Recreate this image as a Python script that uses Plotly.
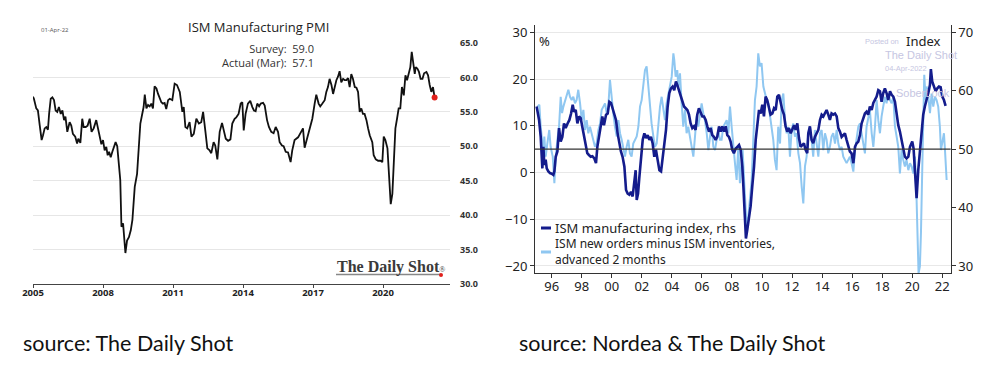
import plotly.graph_objects as go

# ---------------- Left chart: ISM Manufacturing PMI (The Daily Shot) ----------------
pmi_dates = [2005.00, 2005.04, 2005.14, 2005.21, 2005.29, 2005.37, 2005.43, 2005.50, 2005.57, 2005.64,
             2005.69, 2005.76, 2005.83, 2005.90, 2005.97, 2006.04, 2006.11, 2006.19, 2006.26, 2006.33,
             2006.39, 2006.47, 2006.57, 2006.64, 2006.71, 2006.81, 2006.89, 2006.94, 2007.03, 2007.11,
             2007.17, 2007.26, 2007.34, 2007.43, 2007.51, 2007.60, 2007.71, 2007.83, 2007.93, 2008.00,
             2008.07, 2008.14, 2008.20, 2008.26, 2008.33, 2008.40, 2008.47, 2008.54, 2008.61, 2008.69,
             2008.74, 2008.79, 2008.86, 2008.96, 2009.03, 2009.11, 2009.19, 2009.26, 2009.36, 2009.46,
             2009.54, 2009.60, 2009.67, 2009.74, 2009.79, 2009.86, 2009.93, 2010.00, 2010.07, 2010.14,
             2010.21, 2010.29, 2010.36, 2010.43, 2010.50, 2010.57, 2010.64, 2010.71, 2010.79, 2010.86,
             2010.97, 2011.07, 2011.17, 2011.29, 2011.40, 2011.46, 2011.53, 2011.61, 2011.71, 2011.79,
             2011.89, 2012.00, 2012.11, 2012.21, 2012.29, 2012.39, 2012.47, 2012.57, 2012.64, 2012.74,
             2012.81, 2012.90, 2013.00, 2013.10, 2013.19, 2013.26, 2013.36, 2013.46, 2013.54, 2013.64,
             2013.71, 2013.81, 2013.90, 2013.97, 2014.03, 2014.11, 2014.21, 2014.31, 2014.40, 2014.47,
             2014.54, 2014.61, 2014.69, 2014.76, 2014.86, 2014.93, 2015.03, 2015.11, 2015.21, 2015.31,
             2015.40, 2015.50, 2015.57, 2015.67, 2015.74, 2015.83, 2015.93, 2016.04, 2016.11, 2016.21,
             2016.36, 2016.47, 2016.57, 2016.64, 2016.74, 2016.86, 2016.97, 2017.07, 2017.14, 2017.24,
             2017.31, 2017.40, 2017.50, 2017.57, 2017.64, 2017.71, 2017.79, 2017.86, 2017.93, 2018.00,
             2018.07, 2018.14, 2018.21, 2018.29, 2018.36, 2018.43, 2018.50, 2018.57, 2018.64, 2018.71,
             2018.79, 2018.86, 2018.93, 2019.00, 2019.07, 2019.14, 2019.21, 2019.29, 2019.36, 2019.43,
             2019.54, 2019.60, 2019.69, 2019.79, 2019.89, 2019.97, 2020.03, 2020.10, 2020.19, 2020.24,
             2020.29, 2020.33, 2020.40, 2020.47, 2020.53, 2020.60, 2020.67, 2020.74, 2020.81, 2020.89,
             2020.96, 2021.03, 2021.10, 2021.17, 2021.23, 2021.29, 2021.36, 2021.40, 2021.47, 2021.54,
             2021.61, 2021.69, 2021.76, 2021.86, 2021.93, 2022.00, 2022.07, 2022.14, 2022.21]
pmi_values = [57.2, 56.9, 55.5, 55.2, 53.0, 50.9, 51.6, 52.6, 52.8, 52.4,
              54.7, 56.9, 57.1, 56.7, 55.2, 55.0, 55.7, 54.7, 55.2, 53.8,
              54.3, 52.1, 53.5, 53.0, 51.8, 51.4, 50.4, 51.1, 50.5, 54.0,
              52.8, 52.8, 53.0, 54.0, 52.1, 52.6, 53.8, 51.8, 50.3, 50.9,
              49.4, 49.9, 48.7, 49.2, 48.4, 49.2, 49.9, 50.6, 50.0, 47.2,
              45.1, 38.3, 38.8, 34.5, 36.3, 36.8, 37.8, 39.3, 44.1, 46.0,
              49.4, 53.3, 54.5, 55.7, 57.5, 55.5, 56.0, 55.8, 56.2, 55.5,
              58.7, 58.4, 57.6, 56.9, 56.4, 56.2, 56.3, 55.4, 56.7, 56.9,
              56.7, 59.1, 58.9, 57.9, 55.0, 55.7, 52.8, 52.6, 53.5, 51.4,
              51.8, 54.0, 53.3, 53.5, 55.0, 52.1, 49.7, 49.4, 49.0, 50.6,
              50.1, 48.1, 52.1, 53.4, 52.3, 51.1, 50.8, 51.0, 53.3, 54.0,
              54.2, 54.7, 56.2, 56.4, 52.3, 54.7, 56.2, 56.6, 55.7, 55.2,
              55.1, 56.2, 55.8, 56.2, 56.3, 55.9, 53.8, 52.8, 52.1, 51.9,
              52.8, 52.1, 50.6, 50.1, 50.0, 49.2, 49.1, 47.7, 49.4, 50.9,
              51.3, 52.1, 52.6, 49.8, 51.0, 52.6, 54.0, 56.2, 57.5, 56.2,
              55.8, 56.2, 56.7, 57.9, 58.6, 59.8, 58.9, 57.6, 58.7, 59.6,
              60.1, 60.9, 59.3, 59.8, 59.6, 59.6, 59.9, 58.6, 60.5, 59.8,
              58.6, 58.5, 57.9, 55.0, 55.5, 54.7, 54.7, 53.8, 52.6, 51.6,
              50.6, 48.7, 48.1, 47.9, 47.9, 47.7, 51.4, 50.9, 49.7, 46.5,
              42.6, 41.6, 43.1, 48.4, 52.6, 54.0, 55.5, 55.5, 58.6, 57.4,
              60.3, 59.6, 60.6, 61.5, 63.7, 61.8, 60.5, 61.5, 61.3, 60.8,
              59.8, 59.8, 60.6, 60.8, 60.3, 58.9, 57.9, 58.6, 57.1]
pmi_xticks = [2005, 2008, 2011, 2014, 2017, 2020]
pmi_xlabels = ["2005", "2008", "2011", "2014", "2017", "2020"]
pmi_yticks = [30, 35, 40, 45, 50, 55, 60, 65]
pmi_ylabels = ["30.0", "35.0", "40.0", "45.0", "50.0", "55.0", "60.0", "65.0"]

# ---------------- Right chart: Nordea ----------------
ism_dates = [1995.00, 1995.16, 1995.27, 1995.38, 1995.45, 1995.51, 1995.60, 1995.67, 1995.78, 1995.89,
             1996.00, 1996.11, 1996.18, 1996.27, 1996.38, 1996.49, 1996.60, 1996.71, 1996.82, 1996.93,
             1997.06, 1997.18, 1997.29, 1997.40, 1997.49, 1997.60, 1997.71, 1997.82, 1997.93, 1998.04,
             1998.15, 1998.26, 1998.37, 1998.48, 1998.60, 1998.71, 1998.84, 1998.95, 1999.04, 1999.15,
             1999.28, 1999.37, 1999.48, 1999.62, 1999.73, 1999.84, 1999.95, 2000.06, 2000.17, 2000.28,
             2000.39, 2000.50, 2000.61, 2000.72, 2000.84, 2000.95, 2001.06, 2001.17, 2001.28, 2001.39,
             2001.48, 2001.59, 2001.66, 2001.75, 2001.83, 2001.95, 2002.06, 2002.17, 2002.28, 2002.39,
             2002.50, 2002.61, 2002.72, 2002.83, 2002.94, 2003.05, 2003.17, 2003.28, 2003.39, 2003.50,
             2003.61, 2003.72, 2003.83, 2003.94, 2004.05, 2004.16, 2004.27, 2004.36, 2004.47, 2004.58,
             2004.70, 2004.81, 2004.92, 2005.03, 2005.14, 2005.25, 2005.36, 2005.47, 2005.58, 2005.69,
             2005.80, 2005.92, 2006.03, 2006.14, 2006.25, 2006.36, 2006.47, 2006.58, 2006.69, 2006.80,
             2006.91, 2007.02, 2007.14, 2007.25, 2007.36, 2007.47, 2007.58, 2007.69, 2007.80, 2007.91,
             2008.02, 2008.13, 2008.25, 2008.36, 2008.47, 2008.58, 2008.69, 2008.76, 2008.87, 2008.93,
             2009.02, 2009.13, 2009.24, 2009.35, 2009.47, 2009.58, 2009.69, 2009.80, 2009.91, 2010.02,
             2010.13, 2010.24, 2010.35, 2010.46, 2010.57, 2010.69, 2010.80, 2010.91, 2011.02, 2011.13,
             2011.24, 2011.35, 2011.46, 2011.57, 2011.68, 2011.79, 2011.91, 2012.02, 2012.13, 2012.24,
             2012.35, 2012.46, 2012.57, 2012.68, 2012.79, 2012.90, 2013.01, 2013.08, 2013.19, 2013.30,
             2013.41, 2013.52, 2013.64, 2013.75, 2013.86, 2013.97, 2014.08, 2014.19, 2014.30, 2014.41,
             2014.52, 2014.63, 2014.74, 2014.86, 2014.97, 2015.08, 2015.19, 2015.30, 2015.41, 2015.52,
             2015.63, 2015.74, 2015.85, 2015.96, 2016.08, 2016.19, 2016.30, 2016.41, 2016.52, 2016.63,
             2016.74, 2016.85, 2016.96, 2017.07, 2017.18, 2017.30, 2017.41, 2017.52, 2017.63, 2017.74,
             2017.85, 2017.96, 2018.07, 2018.18, 2018.29, 2018.40, 2018.52, 2018.63, 2018.74, 2018.85,
             2018.96, 2019.07, 2019.18, 2019.29, 2019.40, 2019.51, 2019.62, 2019.74, 2019.85, 2020.00,
             2020.09, 2020.20, 2020.29, 2020.40, 2020.51, 2020.62, 2020.73, 2020.84, 2020.96, 2021.07,
             2021.18, 2021.24, 2021.33, 2021.44, 2021.56, 2021.67, 2021.78, 2021.89, 2022.00, 2022.11,
             2022.22]
ism_values = [57.3, 55.0, 52.1, 46.7, 50.4, 47.3, 48.2, 46.7, 46.2, 45.9,
              45.8, 45.6, 46.2, 48.7, 49.6, 53.6, 51.3, 52.1, 54.4, 53.6,
              54.4, 55.0, 56.1, 57.6, 56.4, 56.7, 54.4, 55.6, 55.3, 53.9,
              52.4, 51.0, 49.3, 49.0, 48.7, 48.8, 48.4, 47.6, 50.4, 52.1,
              53.9, 55.6, 54.1, 55.9, 56.1, 58.1, 57.9, 57.0, 55.9, 55.0,
              52.7, 50.7, 49.6, 48.7, 47.0, 43.0, 42.4, 42.2, 42.7, 41.9,
              43.9, 46.4, 41.3, 42.4, 45.0, 48.2, 51.6, 52.7, 51.9, 52.4,
              51.6, 52.1, 51.0, 48.7, 49.9, 48.2, 46.4, 46.2, 48.7, 51.6,
              53.3, 57.3, 59.6, 60.4, 60.7, 60.1, 61.6, 61.0, 60.1, 59.3,
              58.4, 57.3, 57.0, 56.7, 55.9, 54.4, 53.6, 53.9, 53.3, 55.9,
              57.0, 56.4, 55.6, 55.6, 55.0, 53.9, 53.0, 53.6, 52.4, 52.1,
              51.6, 52.1, 53.9, 53.0, 53.9, 53.0, 53.9, 52.4, 52.1, 51.3,
              49.9, 49.3, 50.1, 50.4, 50.7, 49.9, 47.0, 43.6, 39.0, 34.7,
              36.2, 38.4, 40.2, 43.6, 47.0, 51.6, 54.4, 56.7, 56.1, 57.6,
              55.6, 59.0, 58.4, 57.3, 55.9, 56.1, 57.0, 56.7, 59.0, 59.3,
              57.9, 56.7, 55.9, 53.9, 53.0, 53.6, 52.7, 53.6, 54.1, 53.3,
              54.4, 51.9, 50.4, 50.7, 51.0, 49.9, 49.3, 52.7, 53.9, 51.6,
              51.0, 52.1, 52.7, 53.3, 55.0, 55.9, 55.6, 56.1, 56.7, 55.9,
              55.0, 56.1, 55.9, 56.1, 55.6, 53.6, 53.0, 52.1, 52.4, 52.7,
              51.6, 50.4, 49.6, 49.3, 47.6, 50.4, 51.0, 51.3, 52.4, 54.4,
              55.3, 56.1, 56.4, 55.9, 57.3, 56.7, 57.9, 58.4, 59.0, 60.1,
              59.9, 58.1, 59.6, 60.4, 59.6, 58.4, 59.9, 59.3, 59.0, 58.1,
              55.6, 54.1, 53.0, 51.6, 49.9, 48.7, 48.4, 48.7, 50.4, 51.3,
              50.1, 44.4, 41.6, 46.4, 50.1, 53.0, 55.9, 57.3, 58.4, 59.6,
              61.0, 63.7, 61.6, 60.7, 59.9, 60.4, 60.7, 60.6, 59.0, 58.4,
              57.4]

nmi_dates = [1995.05, 1995.18, 1995.27, 1995.38, 1995.45, 1995.51, 1995.60, 1995.71, 1995.84, 1995.93,
             1996.07, 1996.18, 1996.27, 1996.38, 1996.49, 1996.60, 1996.69, 1996.78, 1996.89, 1997.00,
             1997.11, 1997.22, 1997.33, 1997.44, 1997.55, 1997.66, 1997.77, 1997.89, 1998.00, 1998.11,
             1998.22, 1998.33, 1998.44, 1998.55, 1998.66, 1998.77, 1998.88, 1998.99, 1999.11, 1999.22,
             1999.33, 1999.44, 1999.55, 1999.66, 1999.77, 1999.88, 1999.99, 2000.10, 2000.21, 2000.33,
             2000.44, 2000.55, 2000.66, 2000.77, 2000.88, 2000.99, 2001.10, 2001.21, 2001.32, 2001.43,
             2001.55, 2001.66, 2001.77, 2001.88, 2001.99, 2002.10, 2002.21, 2002.32, 2002.39, 2002.48,
             2002.54, 2002.65, 2002.77, 2002.88, 2002.99, 2003.10, 2003.21, 2003.32, 2003.43, 2003.54,
             2003.65, 2003.76, 2003.87, 2003.99, 2004.10, 2004.16, 2004.25, 2004.36, 2004.43, 2004.54,
             2004.65, 2004.76, 2004.87, 2004.98, 2005.09, 2005.21, 2005.32, 2005.43, 2005.54, 2005.65,
             2005.76, 2005.87, 2005.98, 2006.09, 2006.20, 2006.32, 2006.43, 2006.54, 2006.65, 2006.76,
             2006.87, 2006.98, 2007.09, 2007.20, 2007.31, 2007.42, 2007.54, 2007.65, 2007.76, 2007.87,
             2007.98, 2008.09, 2008.20, 2008.31, 2008.42, 2008.53, 2008.64, 2008.71, 2008.82, 2008.91,
             2008.98, 2009.09, 2009.20, 2009.31, 2009.42, 2009.53, 2009.64, 2009.75, 2009.86, 2009.97,
             2010.09, 2010.20, 2010.31, 2010.42, 2010.53, 2010.64, 2010.75, 2010.86, 2010.97, 2011.08,
             2011.20, 2011.31, 2011.42, 2011.53, 2011.64, 2011.75, 2011.86, 2011.97, 2012.08, 2012.19,
             2012.30, 2012.42, 2012.53, 2012.64, 2012.75, 2012.86, 2012.97, 2013.08, 2013.19, 2013.30,
             2013.41, 2013.52, 2013.64, 2013.75, 2013.86, 2013.97, 2014.08, 2014.19, 2014.30, 2014.41,
             2014.52, 2014.63, 2014.74, 2014.86, 2014.97, 2015.08, 2015.19, 2015.30, 2015.41, 2015.52,
             2015.63, 2015.74, 2015.85, 2015.96, 2016.08, 2016.19, 2016.30, 2016.41, 2016.52, 2016.63,
             2016.74, 2016.85, 2016.96, 2017.07, 2017.18, 2017.30, 2017.41, 2017.52, 2017.63, 2017.74,
             2017.85, 2017.96, 2018.07, 2018.18, 2018.29, 2018.40, 2018.52, 2018.63, 2018.74, 2018.85,
             2018.96, 2019.07, 2019.18, 2019.29, 2019.40, 2019.51, 2019.62, 2019.74, 2019.85, 2019.96,
             2020.07, 2020.18, 2020.29, 2020.36, 2020.42, 2020.51, 2020.58, 2020.67, 2020.73, 2020.80,
             2020.89, 2020.96, 2021.07, 2021.18, 2021.29, 2021.40, 2021.51, 2021.62, 2021.73, 2021.84,
             2021.91, 2022.00, 2022.11, 2022.18, 2022.29]
nmi_values = [14.1, 14.5, 9.8, 6.2, 4.1, 7.7, 3.4, 6.2, 9.1, 5.5,
              3.4, -2.3, 3.4, 7.0, 9.8, 16.2, 12.7, 14.1, 15.5, 16.6,
              17.7, 16.2, 15.5, 16.2, 14.8, 15.5, 17.7, 14.8, 11.2, 13.4,
              9.1, 11.2, 8.4, 9.8, 8.4, 7.0, 5.5, 6.2, 9.1, 10.5,
              13.4, 14.1, 14.8, 12.7, 14.1, 19.8, 15.5, 12.7, 9.8, 7.7,
              11.2, 8.4, 7.0, 5.5, 3.4, 5.5, 7.0, 4.1, 3.4, 6.2,
              7.0, 7.7, 9.8, 14.1, 15.5, 19.1, 21.9, 22.7, 19.8, 16.9,
              14.1, 10.5, 7.7, 5.5, 6.2, 11.2, 14.1, 16.2, 13.4, 11.2,
              14.8, 16.9, 18.4, 20.5, 25.5, 24.1, 20.5, 21.9, 18.4, 21.2,
              14.8, 9.8, 13.4, 8.4, 9.8, 7.0, 5.5, 3.4, 8.4, 12.0,
              9.8, 12.7, 14.8, 12.7, 11.2, 8.4, 4.8, 7.7, 9.8, 5.5,
              4.8, 7.0, 9.1, 7.0, 7.0, 9.8, 10.5, 11.2, 8.4, 14.1,
              9.8, 4.8, 2.0, -1.6, 5.5, -2.3, 3.4, 4.8, -2.3, -8.7,
              -11.6, -9.4, -5.2, -1.6, 7.0, 15.5, 18.4, 25.5, 22.7, 23.4,
              18.4, 16.9, 15.5, 14.8, 12.0, 9.8, 7.0, 2.7, 0.5, 9.8,
              6.2, 15.5, 16.9, 11.2, 8.4, 9.8, 3.4, 9.1, 10.5, 7.7,
              8.4, 4.1, 2.0, -3.0, -6.6, 1.3, 3.4, 8.4, 9.8, 7.0,
              3.4, 9.1, 6.2, 3.4, 8.4, 9.1, 4.8, 8.4, 7.0, 4.1,
              5.5, 7.7, 8.4, 6.2, 9.1, 6.2, 4.8, 5.5, 3.4, 2.7,
              2.0, 2.7, 3.4, 2.0, 0.2, 4.8, 7.0, 9.8, 10.5, 8.4,
              5.5, 4.1, 9.8, 12.0, 13.4, 8.4, 5.5, 9.8, 15.5, 11.2,
              8.4, 12.0, 14.1, 16.2, 14.8, 16.9, 15.5, 14.8, 16.2, 9.8,
              7.7, 5.5, -0.2, 4.8, 2.7, 1.3, 2.7, 0.5, 2.0, 1.3,
              -0.2, 3.4, -5.9, -13.0, -21.6, -20.1, -13.0, 1.3, 15.5, 20.9,
              15.5, 18.4, 16.2, 12.7, 16.9, 14.1, 16.2, 15.5, 14.1, 9.8,
              4.8, 6.2, 8.4, 4.8, -1.6]

nordea_xticks = [1996, 1998, 2000, 2002, 2004, 2006, 2008, 2010, 2012, 2014, 2016, 2018, 2020, 2022]
nordea_xlabels = ["96", "98", "00", "02", "04", "06", "08", "10", "12", "14", "16", "18", "20", "22"]
lhs_ticks = [-20, -10, 0, 10, 20, 30]
rhs_ticks = [30, 40, 50, 60, 70]


def px(x):
    return x / 1000.0


def py(y):
    return 1 - y / 374.0


NAVY = "#141c8c"
LIGHT = "#8fc7f1"
WM = "#c6c6e2"

fig = go.Figure()

fig.add_trace(go.Scatter(x=pmi_dates, y=pmi_values, xaxis="x", yaxis="y", mode="lines",
                         line=dict(color="#111111", width=1.8), showlegend=False, hoverinfo="skip"))
fig.add_trace(go.Scatter(x=[pmi_dates[-1]], y=[pmi_values[-1]], xaxis="x", yaxis="y", mode="markers",
                         marker=dict(color="#e0201c", size=6), showlegend=False, hoverinfo="skip"))

fig.add_trace(go.Scatter(x=nmi_dates, y=nmi_values, xaxis="x2", yaxis="y2", mode="lines",
                         line=dict(color=LIGHT, width=2), showlegend=False, hoverinfo="skip"))
fig.add_trace(go.Scatter(x=ism_dates, y=ism_values, xaxis="x2", yaxis="y3", mode="lines",
                         line=dict(color=NAVY, width=2.6), showlegend=False, hoverinfo="skip"))

left_font = "Open Sans, Noto Sans, sans-serif"
right_font = "Noto Sans, Open Sans, sans-serif"

fig.update_layout(
    width=1000, height=374,
    margin=dict(l=0, r=0, t=0, b=0, pad=0, autoexpand=False),
    paper_bgcolor="white", plot_bgcolor="white",
    showlegend=False,
    xaxis=dict(domain=[px(33), px(450)], range=[2005, 2022.87], anchor="y", automargin=False,
               tickvals=pmi_xticks, ticktext=pmi_xlabels,
               showgrid=False, zeroline=False, showline=True, linecolor="#444", linewidth=1.2,
               ticks="outside", ticklen=3, tickcolor="#444", ticklabelstandoff=-4,
               tickfont=dict(family=left_font, size=9.5, color="#222", weight="bold")),
    yaxis=dict(domain=[py(284), py(43)], range=[30, 65], anchor="x", side="right", automargin=False,
               tickvals=pmi_yticks, ticktext=pmi_ylabels,
               showgrid=True, gridcolor="#e6e6e6", gridwidth=1, zeroline=False, showline=False,
               ticks="", ticklabelstandoff=9,
               tickfont=dict(family=left_font, size=9, color="#333", weight="bold")),
    xaxis2=dict(domain=[px(535), px(950.7)], range=[1994.89, 2022.56], anchor="y2", automargin=False,
                tickvals=nordea_xticks, ticktext=nordea_xlabels,
                showgrid=False, zeroline=False, showline=True, linecolor="#333", linewidth=1,
                ticks="outside", ticklen=4, tickcolor="#333", ticklabelstandoff=-3,
                tickfont=dict(family=right_font, size=13, color="#222")),
    yaxis2=dict(domain=[py(273), py(25)], range=[-21.5, 31.56], anchor="x2", automargin=False,
                tickvals=lhs_ticks,
                showgrid=True, gridcolor="#e8e8e8", gridwidth=1, zeroline=False,
                showline=True, linecolor="#333", linewidth=1,
                ticks="outside", ticklen=4, tickcolor="#333",
                tickfont=dict(family=right_font, size=13, color="#222")),
    yaxis3=dict(range=[28.8, 71.25], overlaying="y2", anchor="x2", side="right", automargin=False,
                tickvals=rhs_ticks, showgrid=False, zeroline=False,
                showline=True, linecolor="#333", linewidth=1,
                ticks="outside", ticklen=4, tickcolor="#333",
                tickfont=dict(family=right_font, size=13, color="#222")),
)

shapes = []
# white box interrupting top gridline behind the survey text
shapes.append(dict(type="rect", xref="paper", yref="paper", x0=px(197), x1=px(320), y0=py(70), y1=py(38),
                   fillcolor="white", line=dict(width=0), layer="above"))
# Daily Shot logo underline + red dot
shapes.append(dict(type="line", xref="paper", yref="paper", x0=px(336), x1=px(441), y0=py(274.5), y1=py(274.5),
                   line=dict(color="#888888", width=1.4)))
shapes.append(dict(type="circle", xref="paper", yref="paper", x0=px(439), x1=px(443), y0=py(277), y1=py(273),
                   fillcolor="#e0201c", line=dict(width=0)))
# horizontal reference line at 5% (50 index)
shapes.append(dict(type="line", xref="x2 domain", yref="y2", x0=0, x1=1, y0=5, y1=5,
                   line=dict(color="#333333", width=1.1)))
# legend samples
shapes.append(dict(type="line", xref="paper", yref="paper", x0=px(541), x1=px(551), y0=py(228), y1=py(228),
                   line=dict(color=NAVY, width=3)))
shapes.append(dict(type="line", xref="paper", yref="paper", x0=px(541), x1=px(551), y0=py(252), y1=py(252),
                   line=dict(color=LIGHT, width=3)))
fig.update_layout(shapes=shapes)

ann = []


def add_text(text, x, y, size, color="#222", family=left_font, xanchor="left", yanchor="middle", **kw):
    ann.append(dict(text=text, x=px(x), y=py(y), xref="paper", yref="paper", showarrow=False,
                    xanchor=xanchor, yanchor=yanchor, font=dict(size=size, color=color, family=family), **kw))


# left chart texts
add_text("ISM Manufacturing PMI", 258, 27, 13, color="#222", xanchor="center")
add_text("01-Apr-22", 39, 30, 6, color="#555")
add_text("Survey:&nbsp;&nbsp;59.0<br>Actual (Mar):&nbsp;&nbsp;57.1", 316, 56, 11, color="#333",
         xanchor="right", align="right")
add_text("<b>The Daily Shot</b><span style='font-size:8px'>®</span>", 335, 267, 16, color="#3a3a3a",
         family="Liberation Serif, DejaVu Serif, serif")

# right chart texts
add_text("%", 537, 41, 13, family=right_font)
add_text("Index", 943, 41, 13, family=right_font, xanchor="right")
add_text("Posted on", 863, 41, 7.5, color=WM, family="Liberation Sans, Arial, sans-serif")
add_text("The Daily Shot", 883, 55, 11, color=WM, family="Liberation Sans, Arial, sans-serif")
add_text("04-Apr-2022", 883, 69, 7.5, color=WM, family="Liberation Sans, Arial, sans-serif")
add_text("SoberLook", 894, 93, 11, color=WM, family="Liberation Sans, Arial, sans-serif")
add_text("ISM manufacturing index, rhs", 553, 228, 13, family=right_font)
add_text("ISM new orders minus ISM inventories,<br>advanced 2 months", 553, 251, 12, family=right_font,
         align="left")

# captions
add_text("source: The Daily Shot", 21, 343, 21.5, color="#111", family="Lato, Open Sans, sans-serif")
add_text("source: Nordea &amp; The Daily Shot", 517, 343, 21.5, color="#111", family="Lato, Open Sans, sans-serif")

fig.update_layout(annotations=ann)

fig.write_html("out.html", config={"displayModeBar": False},
               post_script="document.body.style.margin='0';")
